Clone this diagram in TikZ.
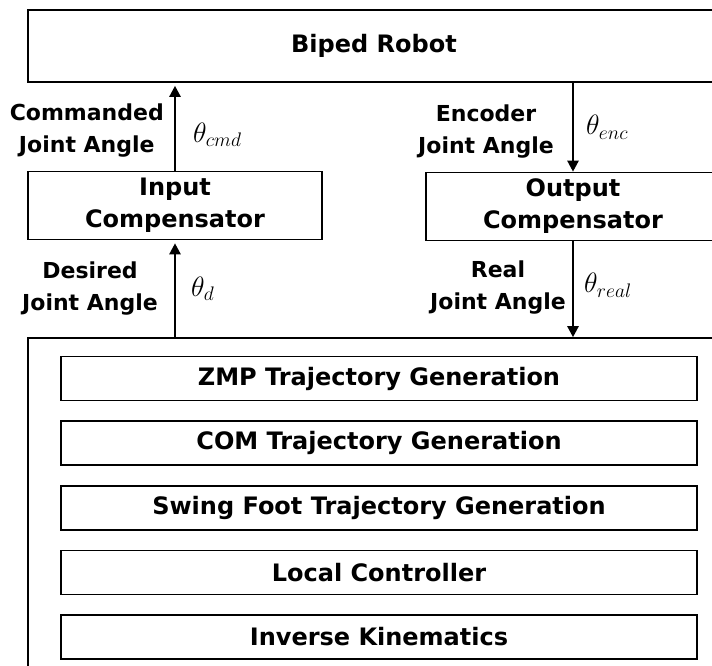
\RequirePackage{fix-cm}
\documentclass[tikz,border=0pt]{standalone}
\usepackage{fontspec}
\setmainfont{DejaVu Sans}
\usetikzlibrary{arrows.meta,positioning}

\tikzset{
  block/.style={draw, line width=1.6pt, minimum height=44pt, inner sep=0pt,
    align=center, font=\bfseries\fontsize{24}{32}\selectfont},
  comp/.style={block, minimum width=294pt, minimum height=68pt},
  module/.style={block, minimum width=636pt},
  sig/.style={line width=2.4pt, -{Triangle[length=11pt,width=11pt]}},
  lbl/.style={inner sep=3pt, align=center, font=\bfseries\fontsize{22}{32}\selectfont},
  sym/.style={inner sep=3pt, font=\fontsize{28}{32}\selectfont}
}

\begin{document}
\begin{tikzpicture}[x=1pt,y=-1pt]
  \useasboundingbox (0,0) rectangle (712,665);
  \clip (0,0) rectangle (712,665);

  \node[block, minimum width=692pt, minimum height=72pt] (robot) at (374,46) {Biped Robot};
  \node[comp] (inp)  at (175,205.5) {Input\\Compensator};
  \node[comp] (outp) at (573,206.5) {Output\\Compensator};

  % pattern generator and its stages
  \node[draw, line width=1.6pt, minimum width=702pt, minimum height=334pt] (gen) at (379,505) {};
  \node[module] (zmp)   at (379,378.5)        {ZMP Trajectory Generation};
  \node[module] (com)   [below=19pt of zmp]   {COM Trajectory Generation};
  \node[module] (swing) [below=19pt of com]   {Swing Foot Trajectory Generation};
  \node[module] (local) [below=19pt of swing] {Local Controller};
  \node[module] (ik)    [below=19pt of local] {Inverse Kinematics};

  % joint angle signals
  \draw[sig, shorten >=3pt] (inp.north) --
      node[lbl, left=7pt, yshift=-4pt] {Commanded\\Joint Angle}
      node[sym, right=14pt, yshift=-8pt] {$\theta_{cmd}$} (inp.north |- robot.south);
  \draw[sig] (outp.north |- robot.south) --
      node[lbl, left=15pt, yshift=-4pt] {Encoder\\Joint Angle}
      node[sym, right=9pt] {$\theta_{enc}$} (outp.north);
  \draw[sig, shorten >=3pt] (inp.south |- gen.north) --
      node[lbl, left=13pt] {Desired\\Joint Angle}
      node[sym, right=12pt] {$\theta_{d}$} (inp.south);
  \draw[sig] (outp.south) --
      node[lbl, left=3pt, yshift=2pt] {Real\\Joint Angle}
      node[sym, right=7pt, yshift=4pt] {$\theta_{real}$} (outp.south |- gen.north);
\end{tikzpicture}
\end{document}
